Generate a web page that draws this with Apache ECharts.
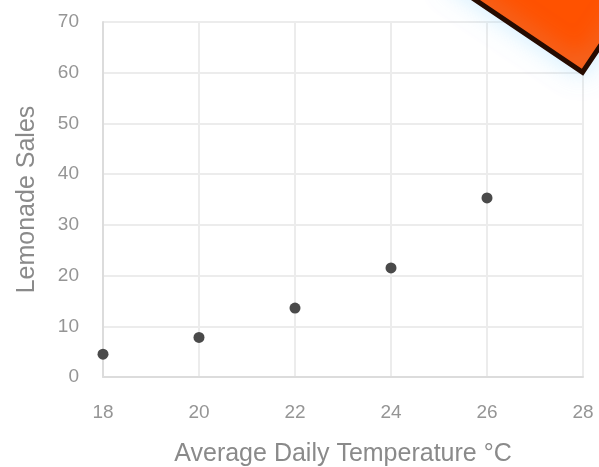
<!DOCTYPE html>
<html><head><meta charset="utf-8">
<script src="https://cdn.jsdelivr.net/npm/echarts@6/dist/echarts.min.js"></script>
<style>html,body{margin:0;padding:0;background:#fff}#c{width:599px;height:467px}</style>
</head><body><div id="c"></div>
<script>
var temperatures = [18, 20, 22, 24, 26];
var sales = [4.5, 7.8, 13.6, 21.5, 35.3];
var xTicks = [18, 20, 22, 24, 26, 28];
var yTicks = [0, 10, 20, 30, 40, 50, 60, 70];
var badgePoint = [27.54, 82.0];
var xTitle = 'Average Daily Temperature °C';
var yTitle = 'Lemonade Sales';

var chart = echarts.init(document.getElementById('c'), null, {renderer: 'canvas'});
var font = 'Liberation Sans, Arial, sans-serif';
chart.setOption({
  animation: false,
  backgroundColor: '#fff',
  grid: {left: 103, right: 16, top: 22, bottom: 90, containLabel: false, outerBoundsMode: 'none'},
  xAxis: {
    type: 'value', min: xTicks[0], max: xTicks[xTicks.length - 1], interval: 2,
    name: xTitle, nameLocation: 'middle', nameGap: 65,
    nameTextStyle: {fontSize: 25, color: '#8a8a8a', fontFamily: font},
    axisLine: {show: true, lineStyle: {color: '#dcdcdc', width: 2}},
    axisTick: {show: false},
    axisLabel: {fontSize: 19, color: '#959595', margin: 26, fontFamily: font},
    splitLine: {show: true, lineStyle: {color: '#ececec', width: 2}}
  },
  yAxis: {
    type: 'value', min: yTicks[0], max: yTicks[yTicks.length - 1], interval: 10,
    name: yTitle, nameLocation: 'middle', nameGap: 63,
    nameTextStyle: {fontSize: 25, color: '#8a8a8a', fontFamily: font},
    axisLine: {show: true, lineStyle: {color: '#dcdcdc', width: 2}},
    axisTick: {show: false},
    axisLabel: {fontSize: 19, color: '#959595', margin: 24, fontFamily: font},
    splitLine: {show: true, lineStyle: {color: '#ececec', width: 2}}
  },
  series: [
    {
      type: 'scatter',
      data: temperatures.map(function (t, i) { return [t, sales[i]]; }),
      symbol: 'circle', symbolSize: 11,
      itemStyle: {color: '#4a4a4a', opacity: 1}
    },
    {
      type: 'scatter', clip: false, silent: true,
      data: [badgePoint],
      symbol: 'rect', symbolSize: 160, symbolRotate: 56,
      itemStyle: {color: '#ff5200', opacity: 1, borderColor: '#260b00', borderWidth: 5,
        shadowColor: 'rgba(170,225,255,0.5)', shadowBlur: 25}
    }
  ]
});
</script></body></html>
